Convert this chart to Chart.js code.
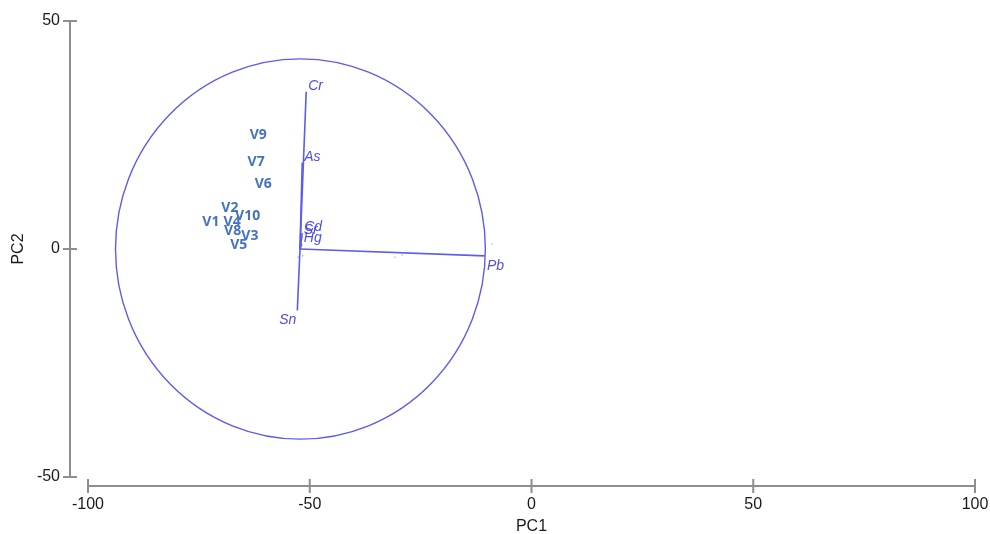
<!DOCTYPE html>
<html>
<head>
<meta charset="utf-8">
<script src="https://cdn.jsdelivr.net/npm/chart.js@4"></script>
<style>
  html, body { margin: 0; padding: 0; background: #fff; }
  #wrap { width: 990px; height: 534px; position: relative; }
</style>
</head>
<body>
<div id="wrap"><canvas id="graph"></canvas></div>
<script>
// axis ticks
const xTickValues = [-100, -50, 0, 50, 100];
const yTickValues = [-50, 0, 50];

// sample scores (V1..V10)
const scoreNames = ['V1', 'V2', 'V3', 'V4', 'V5', 'V6', 'V7', 'V8', 'V9', 'V10'];
const scoreX = [-72.3, -68.0, -63.5, -67.5, -66.0, -60.5, -62.1, -67.4, -61.6, -64.0];
const scoreY = [5.9, 9.0, 2.9, 6.0, 0.9, 14.3, 19.0, 3.9, 24.9, 7.2];

// loading vectors, all drawn from the same origin
const loadingOrigin = [-52.2, 0];
const loadingNames = ['Cr', 'As', 'Cd', 'Sr', 'Hg', 'Sn', 'Pb'];
const loadingX = [-50.8, -51.7, -51.7, -51.8, -51.8, -52.8, -10.5];
const loadingY = [34.5, 18.9, 3.5, 2.8, 1.1, -13.5, -1.5];

// faint grey points near the origin
const dotX = [-52.6, -51.6, -30.8, -29.2, -8.9];
const dotY = [-1.8, -1.5, -1.8, -1.3, 1.1];

// correlation circle
const circleCenter = [-52.1, 0];
const circleRadius = 41.7;

const lineColor = 'rgb(92,92,238)';
const labelColor = 'rgb(78,78,226)';
const scoreColor = '#4472c4';
const axisColor = '#8e8e8e';

let datasets = [];
datasets.push({
  type: 'scatter',
  label: 'dots',
  data: dotX.map((x, i) => ({x: x, y: dotY[i]})),
  pointRadius: 0.8,
  backgroundColor: '#b0b0b0',
  borderWidth: 0
});
datasets.push({
  type: 'scatter',
  label: 'scores',
  data: scoreX.map((x, i) => ({x: x, y: scoreY[i]})),
  pointRadius: 0
});
const loadingStart = datasets.length;
loadingNames.forEach(function (name, i) {
  datasets.push({
    type: 'line',
    label: name,
    data: [{x: loadingOrigin[0], y: loadingOrigin[1]}, {x: loadingX[i], y: loadingY[i]}],
    borderColor: lineColor,
    borderWidth: 1.6,
    pointRadius: 0,
    fill: false
  });
});

// circle drawn through the scales
const circlePlugin = {
  id: 'circle',
  beforeDatasetsDraw(chart) {
    const ctx = chart.ctx, xs = chart.scales.x, ys = chart.scales.y;
    const cx = xs.getPixelForValue(circleCenter[0]);
    const cy = ys.getPixelForValue(circleCenter[1]);
    const rx = Math.abs(xs.getPixelForValue(circleCenter[0] + circleRadius) - cx);
    const ry = Math.abs(ys.getPixelForValue(circleCenter[1] + circleRadius) - cy);
    ctx.save();
    ctx.strokeStyle = lineColor;
    ctx.lineWidth = 1.4;
    ctx.beginPath();
    ctx.ellipse(cx, cy, rx, ry, 0, 0, Math.PI * 2);
    ctx.stroke();
    ctx.restore();
  }
};

// text labels for scores and loadings
const labelPlugin = {
  id: 'labels',
  afterDatasetsDraw(chart) {
    const ctx = chart.ctx;
    ctx.save();
    const sMeta = chart.getDatasetMeta(1);
    ctx.font = 'bold 14px "Open Sans", sans-serif';
    ctx.fillStyle = scoreColor;
    ctx.textAlign = 'center';
    ctx.textBaseline = 'middle';
    sMeta.data.forEach(function (pt, i) {
      ctx.fillText(scoreNames[i], pt.x, pt.y);
    });

    ctx.font = 'italic 14px "Liberation Sans", Arial, sans-serif';
    ctx.fillStyle = labelColor;
    loadingNames.forEach(function (name, i) {
      const meta = chart.getDatasetMeta(loadingStart + i);
      const a = meta.data[0], b = meta.data[1];
      const dx = b.x - a.x, dy = b.y - a.y;
      ctx.textAlign = dx >= 0 ? 'left' : 'right';
      ctx.textBaseline = dy <= 0 ? 'bottom' : 'top';
      ctx.fillText(name, b.x + (dx >= 0 ? 2 : -1), b.y + (dy <= 0 ? 1 : 3));
    });
    ctx.restore();
  }
};

// detached axes like the original plot
const axesPlugin = {
  id: 'axes',
  afterDraw(chart) {
    const ctx = chart.ctx, xs = chart.scales.x, ys = chart.scales.y, area = chart.chartArea;
    const axisX = area.left - 18;
    const axisY = area.bottom + 9;
    ctx.save();
    ctx.strokeStyle = axisColor;
    ctx.lineWidth = 2;

    ctx.beginPath();
    ctx.moveTo(axisX, ys.getPixelForValue(yTickValues[yTickValues.length - 1]));
    ctx.lineTo(axisX, ys.getPixelForValue(yTickValues[0]));
    yTickValues.forEach(function (v) {
      const py = ys.getPixelForValue(v);
      ctx.moveTo(axisX - 7, py);
      ctx.lineTo(axisX + 7, py);
    });
    ctx.moveTo(xs.getPixelForValue(xTickValues[0]), axisY);
    ctx.lineTo(xs.getPixelForValue(xTickValues[xTickValues.length - 1]), axisY);
    xTickValues.forEach(function (v) {
      const px = xs.getPixelForValue(v);
      ctx.moveTo(px, axisY - 7);
      ctx.lineTo(px, axisY + 7);
    });
    ctx.stroke();

    ctx.fillStyle = '#1a1a1a';
    ctx.font = '16px "Liberation Sans", Arial, sans-serif';
    ctx.textAlign = 'right';
    ctx.textBaseline = 'middle';
    yTickValues.forEach(function (v) {
      ctx.fillText(String(v), axisX - 10, ys.getPixelForValue(v));
    });
    ctx.textAlign = 'center';
    xTickValues.forEach(function (v) {
      ctx.fillText(String(v), xs.getPixelForValue(v), axisY + 19);
    });

    ctx.fillText('PC1', (xs.getPixelForValue(xTickValues[0]) + xs.getPixelForValue(xTickValues[xTickValues.length - 1])) / 2, axisY + 41);
    ctx.translate(19, (area.top + area.bottom) / 2);
    ctx.rotate(-Math.PI / 2);
    ctx.fillText('PC2', 0, 0);
    ctx.restore();
  }
};

const config = {
  type: 'scatter',
  data: { datasets: datasets },
  options: {
    responsive: true,
    maintainAspectRatio: false,
    animation: false,
    layout: { padding: { left: 88, right: 15, top: 21, bottom: 57 } },
    plugins: { legend: { display: false }, tooltip: { enabled: false } },
    scales: {
      x: { type: 'linear', min: -100, max: 100, display: false },
      y: { type: 'linear', min: -50, max: 50, display: false }
    }
  },
  plugins: [circlePlugin, labelPlugin, axesPlugin]
};

const pcaChart = new Chart(document.getElementById('graph'), config);
</script>
</body>
</html>
